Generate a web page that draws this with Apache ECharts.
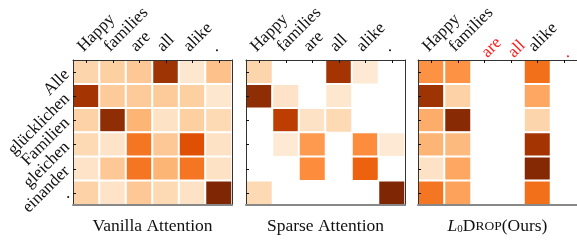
<!DOCTYPE html>
<html>
<head>
<meta charset="utf-8">
<script src="https://cdn.jsdelivr.net/npm/echarts@6/dist/echarts.min.js"></script>
<style>html,body{margin:0;padding:0;background:#fff}#c{width:577px;height:240px}</style>
</head>
<body>
<div id="c"></div>
<script>
var srcTokens = ['Happy', 'families', 'are', 'all', 'alike', '.'];
var tgtTokens = ['Alle', 'glücklichen', 'Familien', 'gleichen', 'einander', '.'];
var droppedTokens = ['are', 'all', '.'];
var panelTitles = ['Vanilla Attention', 'Sparse Attention', 'L0Drop(Ours)'];

// rows = target tokens (top to bottom), columns = source tokens; 0 = no weight (blank)
var vanilla = [
  [0.22, 0.25, 0.28, 0.90, 0.12, 0.30],
  [0.88, 0.27, 0.27, 0.27, 0.25, 0.12],
  [0.24, 0.95, 0.35, 0.15, 0.25, 0.20],
  [0.20, 0.14, 0.58, 0.28, 0.72, 0.15],
  [0.14, 0.28, 0.58, 0.35, 0.58, 0.15],
  [0.24, 0.14, 0.28, 0.20, 0.15, 1.00]
];
var sparse = [
  [0.22, 0, 0, 0.88, 0.10, 0],
  [0.95, 0.14, 0, 0.12, 0, 0],
  [0, 0.82, 0.15, 0.20, 0, 0],
  [0, 0.10, 0.45, 0, 0.50, 0.10],
  [0, 0, 0.50, 0, 0.65, 0],
  [0.20, 0, 0, 0, 0, 1.00]
];
var l0drop = [
  [0.48, 0.48, 0, 0, 0.60, 0],
  [0.90, 0.24, 0, 0, 0.40, 0],
  [0.38, 0.97, 0, 0, 0.22, 0],
  [0.35, 0.33, 0, 0, 0.88, 0],
  [0.15, 0.40, 0, 0, 0.98, 0],
  [0.58, 0.42, 0, 0, 0.60, 0]
];

var oranges = ['#fff5eb','#fee6ce','#fdd0a2','#fdae6b','#fd8d3c','#f16913','#d94801','#a63603','#7f2704'];
var FONT = 'Liberation Serif';
var LS = 17;
var TS = 17.5;
var FRAME = '#333';
var matrices = [vanilla, sparse, l0drop];
var lefts = [73, 246, 418];
var W = 159, H = 159, TOP = 60;

function cells(m) {
  var out = [];
  for (var r = 0; r < m.length; r++)
    for (var c = 0; c < m[r].length; c++)
      if (m[r][c] > 0) out.push([c, r, m[r][c]]);
  return out;
}

var grids = [], xAxes = [], yAxes = [], series = [];
for (var p = 0; p < 3; p++) {
  grids.push({left: lefts[p], top: TOP, width: W, height: H, show: false});
  var xData = srcTokens.map(function (t) {
    if (p === 2 && droppedTokens.indexOf(t) >= 0) return {value: t, textStyle: {color: '#ff2020'}};
    return t;
  });
  xAxes.push({
    type: 'category', gridIndex: p, position: 'top', data: xData, z: 10,
    axisLine: {show: true, lineStyle: {color: FRAME, width: 1}},
    axisTick: {show: true, inside: true, length: 3, alignWithLabel: true, lineStyle: {color: '#111'}},
    axisLabel: {rotate: -45, align: 'left', verticalAlign: 'bottom', margin: 5, fontFamily: FONT, fontSize: LS, color: '#111', interval: 0},
    splitLine: {show: false}
  });
  var nameRich = {
    i: {fontFamily: FONT, fontStyle: 'italic', fontSize: TS, color: '#111'},
    sub: {fontFamily: FONT, fontSize: 11, color: '#111', verticalAlign: 'bottom', padding: [7, 0, 0, 0]},
    n: {fontFamily: FONT, fontSize: TS, color: '#111'},
    sc: {fontFamily: FONT, fontSize: 13.5, color: '#111'}
  };
  var nm = p === 2 ? '{i|L}{sub|0}{n|D}{sc|ROP}{n|(Ours)}' : '{n|' + panelTitles[p] + '}';
  xAxes.push({
    type: 'category', gridIndex: p, position: 'bottom', data: srcTokens, z: 10,
    axisLine: {show: true, lineStyle: {color: '#888', width: 2}},
    axisTick: {show: false}, axisLabel: {show: false}, splitLine: {show: false},
    name: nm, nameLocation: 'middle', nameGap: 12,
    nameTextStyle: {fontFamily: FONT, fontSize: TS, color: '#111', rich: nameRich}
  });
  yAxes.push({
    type: 'category', gridIndex: p, position: 'left', data: tgtTokens, inverse: true, z: 10,
    axisLine: {show: true, lineStyle: {color: FRAME, width: 1}},
    axisTick: {show: true, inside: true, length: 3, alignWithLabel: true, lineStyle: {color: '#111'}},
    axisLabel: {show: p === 0, rotate: 45, margin: 6, fontFamily: FONT, fontSize: LS, color: '#111', interval: 0},
    splitLine: {show: false}
  });
  yAxes.push({
    type: 'category', gridIndex: p, position: 'right', data: tgtTokens, inverse: true, z: 10,
    axisLine: {show: true, lineStyle: {color: FRAME, width: 1}},
    axisTick: {show: false}, axisLabel: {show: false}, splitLine: {show: false}
  });
  series.push({
    type: 'heatmap', xAxisIndex: p * 2, yAxisIndex: p * 2, data: cells(matrices[p]),
    itemStyle: {borderColor: '#fff', borderWidth: 2},
    emphasis: {disabled: true}
  });
}

var chart = echarts.init(document.getElementById('c'), null, {renderer: 'canvas'});
chart.setOption({
  animation: false,
  backgroundColor: '#fff',
  grid: grids, xAxis: xAxes, yAxis: yAxes, series: series,
  visualMap: {type: 'continuous', min: 0, max: 1, show: false, seriesIndex: [0, 1, 2], inRange: {color: oranges}}
});
</script>
</body>
</html>
